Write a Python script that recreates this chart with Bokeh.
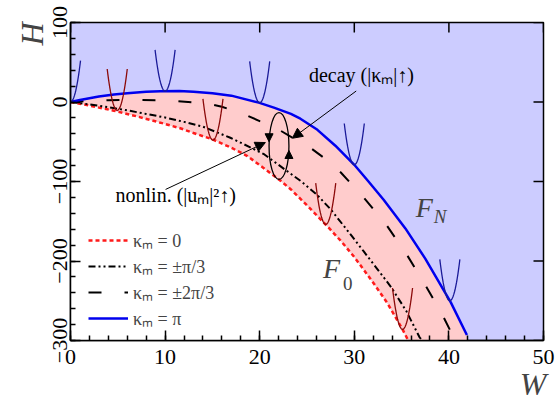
import numpy as np
from bokeh.plotting import figure
from bokeh.models import (FixedTicker, Label, Arrow, NormalHead, Legend,
                          LegendItem, Title)
from bokeh.embed import file_html
from bokeh.resources import INLINE

# Branch curves H(W) for the different kappa_m values
w_k0 = [0, 2, 4.6, 7, 9.5, 11.6, 13, 15, 17, 18.7, 20.3, 22.2, 23.3, 25, 27.2,
        28.6, 30, 31, 32.1, 33.5, 35.1, 35.7]
h_k0 = [0, -4.5, -11, -18, -26, -33, -39, -47, -57.5, -68, -82, -99, -110, -130,
        -157, -175, -195, -211, -229, -253, -286, -300]

w_k1 = [0, 2, 4, 6, 8, 10, 12, 14, 16.9, 19, 20.5, 22.9, 24.3, 26, 27.5, 29.3,
        31, 33.2, 33.9, 35.5, 36.9, 37.2]
h_k1 = [0, -3, -6.5, -10.5, -15, -19.5, -25, -31, -45, -57, -66, -87, -99, -116,
        -135, -162, -188, -222, -233, -263, -296, -300]

w_k2 = [0, 2, 4, 7, 9, 11, 13, 14.5, 16, 18.3, 20, 21.9, 23.5, 25.4, 27, 28.6,
        30.7, 33.3, 35.6, 37.4, 39.2, 40.5]
h_k2 = [0, 1.5, 2.3, 2.5, 2.3, 1.5, -0.5, -2, -6, -15, -24, -34, -45, -58, -72,
        -89, -116, -153, -193, -228, -265, -296]

w_pi = [0, 1, 2, 3, 4.6, 6, 8, 9.5, 11.5, 13, 15, 17, 19.9, 21.5, 23.3, 24.3,
        26.1, 28, 30, 31.5, 33.1, 35.4, 37.5, 40.2, 41.9]
h_pi = [0, 2.5, 4.8, 6.8, 9.3, 11, 12.8, 13.6, 13.8, 13, 11, 8, -0.8, -7,
        -15, -21, -35, -55, -79, -100, -123, -159, -197, -252, -293]

# Points where the small potential sketches sit on the F_N and F_0 curves
sketch_w_pi = [0, 10, 20, 30, 40.1]
sketch_h_pi = [0, 13.6, -1, -79, -250]
sketch_w_k0 = [4.94, 15.06, 26.98, 35.1]
sketch_h_k0 = [-10.5, -48, -154, -286]

x_ticks = [0, 10, 20, 30, 40, 50]
y_ticks = [-300, -200, -100, 0, 100]
y_tick_labels = ["\u2212300", "\u2212200", "\u2212100", "0", "100"]

X_MIN, X_MAX = 0, 50
Y_MIN, Y_MAX = -300, 100

SERIF = "Liberation Serif"
BLUE_FILL = "#ccccff"
PINK_FILL = "#ffcccc"

p = figure(width=557, height=405, x_range=(X_MIN, X_MAX), y_range=(Y_MIN, Y_MAX),
           output_backend="svg", toolbar_location=None,
           min_border_left=70, min_border_right=14, min_border_top=22,
           min_border_bottom=65)
p.grid.visible = False
p.background_fill_color = BLUE_FILL
p.border_fill_color = "white"
p.outline_line_color = "black"
p.outline_line_width = 1.5

# Region below F_0 is left white, band between F_0 and F_N is pink
white_x = list(w_k0) + [X_MIN]
white_y = list(h_k0) + [Y_MIN]
p.patch(white_x, white_y, fill_color="white", line_color=None)

band_x = list(w_k0) + [w_pi[-1], w_pi[-1]] + list(w_pi[::-1])
band_y = list(h_k0) + [Y_MIN, h_pi[-1]] + list(h_pi[::-1])
p.patch(band_x, band_y, fill_color=PINK_FILL, line_color=None)

r0 = p.line(w_k0, h_k0, line_color="#ff1a1a", line_width=2.5, line_dash="4 3")
r1 = p.line(w_k1, h_k1, line_color="black", line_width=2, line_dash="7 3 2 3 2 3")
r2 = p.line(w_k2, h_k2, line_color="black", line_width=2, line_dash="13 23")
r3 = p.line(w_pi, h_pi, line_color="#0000ee", line_width=2.5)


def sketch(wc, hc, half=1.06, depth=52.0, n=31):
    xs = np.linspace(wc - half, wc + half, n)
    ys = hc + depth * ((xs - wc) / half) ** 2
    return list(xs), list(ys)


bx, by = zip(*[sketch(w, h) for w, h in zip(sketch_w_pi, sketch_h_pi)])
p.multi_line(list(bx), list(by), line_color="#1a1a99", line_width=1.3)
rx, ry = zip(*[sketch(w, h) for w, h in zip(sketch_w_k0, sketch_h_k0)])
p.multi_line(list(rx), list(ry), line_color="#8b0a0a", line_width=1.3)

# Circulation loop between the branches
loop_w, loop_h, loop_dw, loop_dh = 22.04, -55.3, 2.1, 84
p.ellipse(x=[loop_w], y=[loop_h], width=[loop_dw], height=[loop_dh],
          fill_alpha=0, line_color="black", line_width=1.3)
head = dict(size=8, fill_color="black", line_color="black")
p.add_layout(Arrow(end=NormalHead(**head), x_start=loop_w - loop_dw / 2,
                   y_start=-42, x_end=loop_w - loop_dw / 2, y_end=-50,
                   line_width=1.2))
p.add_layout(Arrow(end=NormalHead(**head), x_start=loop_w + loop_dw / 2,
                   y_start=-69, x_end=loop_w + loop_dw / 2, y_end=-61,
                   line_width=1.2))

# Pointer arrows with their captions
p.add_layout(Arrow(end=NormalHead(size=10, fill_color="black", line_color="black"),
                   x_start=30.2, y_start=13.8, x_end=23.45, y_end=-45.6,
                   line_width=1))
p.add_layout(Arrow(end=NormalHead(size=10, fill_color="black", line_color="black"),
                   x_start=10.05, y_start=-110, x_end=20.6, y_end=-51,
                   line_width=1))
p.add_layout(Label(x=25.2, y=20, text="decay (|\u03baₘ|\u2191)",
                   text_font=SERIF, text_font_size="20px", text_color="black"))
p.add_layout(Label(x=4.76, y=-131, text="nonlin. (|uₘ|\u00b2\u2191)",
                   text_font=SERIF, text_font_size="20px", text_color="black"))

# Curve names
p.add_layout(Label(x=36.5, y=-152, text="F", text_font=SERIF, text_font_size="28px",
                   text_font_style="italic"))
p.add_layout(Label(x=38.4, y=-157, text="N", text_font=SERIF, text_font_size="19px",
                   text_font_style="italic"))
p.add_layout(Label(x=26.7, y=-229, text="F", text_font=SERIF, text_font_size="28px",
                   text_font_style="italic"))
p.add_layout(Label(x=28.8, y=-236, text="0", text_font=SERIF, text_font_size="19px"))

# Axes: inward ticks, rotated labels on the H axis
xa = p.xaxis[0]
xa.ticker = FixedTicker(ticks=x_ticks, minor_ticks=list(range(0, 51, 2)))
ya = p.yaxis[0]
ya.ticker = FixedTicker(ticks=y_ticks, minor_ticks=list(range(-300, 101, 20)))
ya.major_label_overrides = {t: s for t, s in zip(y_ticks, y_tick_labels)}
ya.major_label_orientation = "vertical"
for ax in (xa, ya):
    ax.major_tick_in = 10
    ax.major_tick_out = 0
    ax.minor_tick_in = 5
    ax.minor_tick_out = 0
    ax.axis_line_width = 1.5
    ax.major_tick_line_width = 1.5
    ax.minor_tick_line_width = 1.5
    ax.major_label_text_font = SERIF
    ax.major_label_text_font_size = "22px"
    ax.major_label_text_color = "black"
xa.major_label_standoff = 9
ya.major_label_standoff = 4

# Axis titles at the far ends of the axes
p.add_layout(Title(text="W", align="right", offset=-3, standoff=-5,
                   vertical_align="bottom", text_font=SERIF,
                   text_font_size="32px", text_font_style="italic"), "below")
p.add_layout(Title(text="H", align="right", offset=0, standoff=0,
                   vertical_align="bottom", text_font=SERIF,
                   text_font_size="32px", text_font_style="italic"), "left")

# Mirrored inward ticks on the top and right edges
p.scatter(x_ticks, [Y_MAX] * len(x_ticks), marker="dash", size=20, angle=np.pi / 2,
          line_color="black", line_width=1.5)
p.scatter([X_MAX] * len(y_ticks), y_ticks, marker="dash", size=20,
          line_color="black", line_width=1.5)

legend = Legend(items=[
    LegendItem(label="\u03baₘ = 0", renderers=[r0]),
    LegendItem(label="\u03baₘ = \u00b1\u03c0/3", renderers=[r1]),
    LegendItem(label="\u03baₘ = \u00b12\u03c0/3", renderers=[r2]),
    LegendItem(label="\u03baₘ = \u03c0", renderers=[r3]),
], location=(12, 4), padding=6, margin=0, spacing=2, glyph_width=40,
    glyph_height=20, label_height=20, label_standoff=5,
    label_text_font=SERIF, label_text_font_size="18px",
    background_fill_alpha=0, border_line_alpha=0)
p.add_layout(legend)

open("out.html", "w").write(file_html(p, INLINE))
